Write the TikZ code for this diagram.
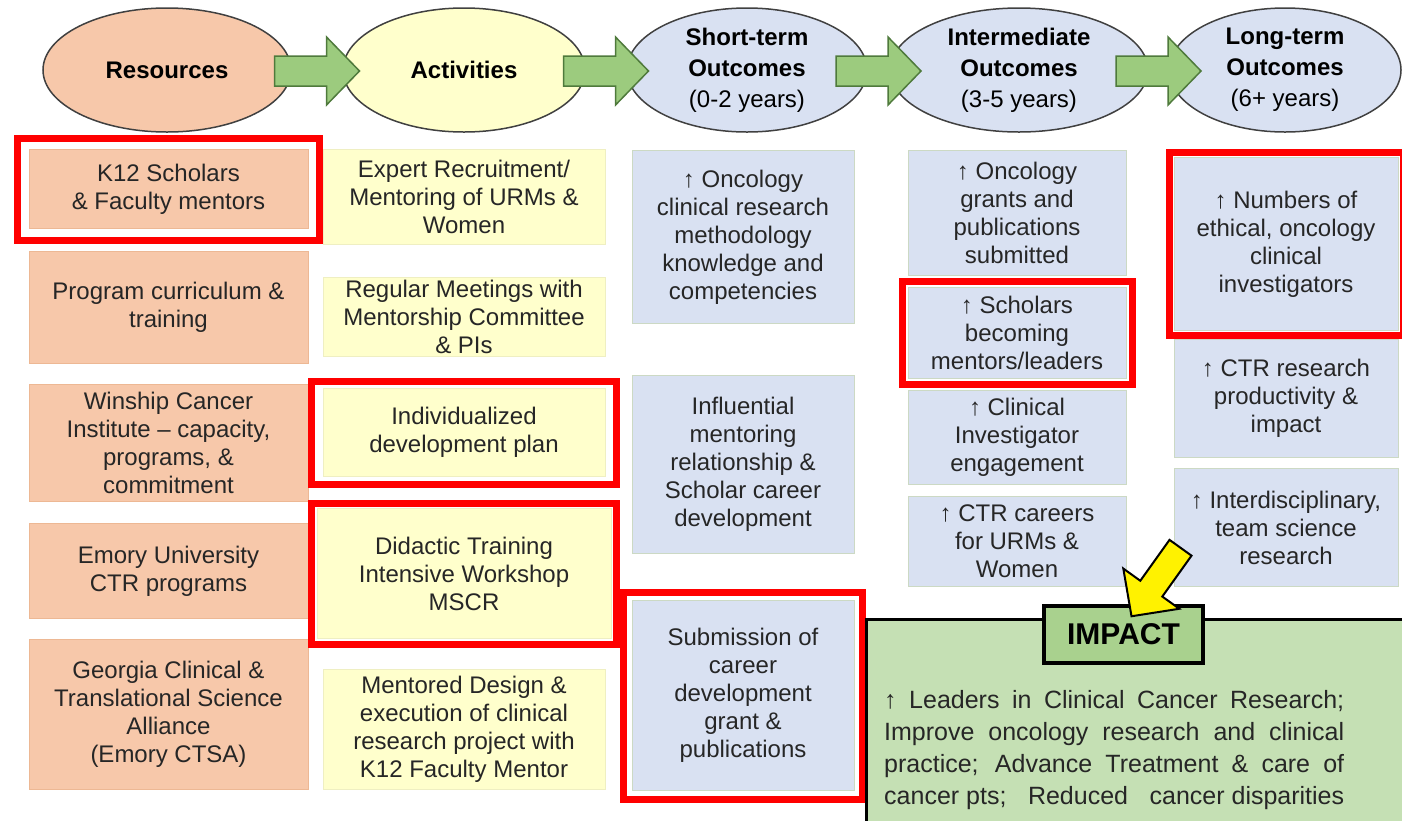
\documentclass[tikz,border=0pt]{standalone}
\usepackage{fontspec}
\setmainfont{Liberation Sans}
\usetikzlibrary{shapes.geometric, positioning, fit, calc}

\definecolor{resfill}{HTML}{F7C8AA}
\definecolor{resline}{HTML}{EDB894}
\definecolor{actfill}{HTML}{FFFFCC}
\definecolor{actline}{HTML}{EFEFC2}
\definecolor{outfill}{HTML}{D9E1F2}
\definecolor{outedge}{HTML}{CCD9C4}
\definecolor{arrfill}{HTML}{9CCB7E}
\definecolor{arredge}{HTML}{4F7A3C}
\definecolor{impfill}{HTML}{C5E0B4}
\definecolor{labfill}{HTML}{A9D18E}
\definecolor{hiliter}{HTML}{FF0000}

\begin{document}
\begin{tikzpicture}[
    x=1pt, y=-1pt,
    font=\fontsize{24}{28}\selectfont,
    hdr/.style={ellipse, draw=black!75, line width=1.5, minimum height=124,
                inner sep=0, align=center, font=\fontsize{24}{31}\selectfont},
    box/.style={rectangle, line width=1, inner sep=0, align=center, text=black!85},
    resbox/.style={box, draw=resline, fill=resfill, minimum width=279},
    actbox/.style={box, draw=actline, fill=actfill, minimum width=282},
    outbox/.style={box, draw=outedge, fill=outfill},
    hilite/.style={draw=hiliter, line width=7},
    garrow/.style={draw=arredge, fill=arrfill, line width=1.5, line join=miter},
    yarrow/.style={draw=black, fill=yellow, line width=2, line join=miter},
]
    \useasboundingbox (0,0) rectangle (1402,820);

    %==================== HEADER ELLIPSES ====================
    \node[hdr, fill=resfill, minimum width=248] (res) at (167,70) {\textbf{Resources}};
    \node[hdr, fill=actfill, minimum width=242] (act) at (464,70) {\textbf{Activities}};
    \node[hdr, fill=outfill, minimum width=240] (sto) at (747,70)
        {\textbf{Short-term}\\\textbf{Outcomes}\\(0-2 years)};
    \node[hdr, fill=outfill, minimum width=258] (ito) at (1019,70)
        {\textbf{Intermediate}\\\textbf{Outcomes}\\(3-5 years)};
    \node[hdr, fill=outfill, minimum width=232] (lto) at (1285,70)
        {\textbf{Long-term}\\\textbf{Outcomes}\\(6+ years)};

    % block arrows between the ellipses
    \foreach \a/\b in {res/act, act/sto, sto/ito, ito/lto} {
        \coordinate (mid-\a) at ($(\a.east)!0.5!(\b.west)+(0,1)$);
        \draw[garrow, shift={(mid-\a)}] (-42.5,-15) -- (9.5,-15) -- (9.5,-34)
            -- (42.5,0) -- (9.5,34) -- (9.5,15) -- (-42.5,15) -- cycle;
    }

    %==================== RESOURCES ====================
    \node[resbox, minimum height=79, anchor=north] (r1) at (168.5,149)
        {K12 Scholars\\\& Faculty mentors};
    \node[resbox, minimum height=112, below=22pt of r1] (r2)
        {Program curriculum \&\\training};
    \node[resbox, minimum height=117, below=20pt of r2] (r3)
        {Winship Cancer\\Institute -- capacity,\\programs, \&\\commitment};
    \node[resbox, minimum height=95, below=21pt of r3] (r4)
        {Emory University\\CTR programs};
    \node[resbox, minimum height=150, below=20pt of r4] (r5)
        {Georgia Clinical \&\\Translational Science\\Alliance\\(Emory CTSA)};

    %==================== ACTIVITIES ====================
    \node[actbox, minimum height=95, anchor=north] (a1) at (464,149)
        {Expert Recruitment/\\Mentoring of URMs \&\\Women};
    \node[actbox, minimum height=79, below=32pt of a1] (a2)
        {Regular Meetings with\\Mentorship Committee\\\& PIs};
    \node[actbox, minimum height=88, below=31pt of a2] (a3)
        {Individualized\\development plan};
    \node[actbox, minimum height=130, minimum width=294, below=31pt of a3] (a4)
        {Didactic Training\\Intensive Workshop\\MSCR};
    \node[actbox, minimum height=120, below=30pt of a4] (a5)
        {Mentored Design \&\\execution of clinical\\research project with\\K12 Faculty Mentor};

    %==================== SHORT-TERM ====================
    \node[outbox, minimum width=222, minimum height=173, anchor=north] (s1) at (743,150)
        {↑ Oncology\\clinical research\\methodology\\knowledge and\\competencies};
    \node[outbox, minimum width=222, minimum height=178, below=51pt of s1] (s2)
        {Influential\\mentoring\\relationship \&\\Scholar career\\development};
    \node[outbox, minimum width=222, minimum height=190, below=46pt of s2] (s3)
        {Submission of\\career\\development\\grant \&\\publications};

    %==================== INTERMEDIATE ====================
    \node[outbox, minimum width=218, minimum height=125, anchor=north] (i1) at (1017,150)
        {↑ Oncology\\grants and\\publications\\submitted};
    \node[outbox, minimum width=218, minimum height=91, below=11pt of i1] (i2)
        {↑ Scholars\\becoming\\mentors/leaders};
    \node[outbox, minimum width=218, minimum height=94, below=11pt of i2] (i3)
        {↑ Clinical\\Investigator\\engagement};
    \node[outbox, minimum width=218, minimum height=90, below=11pt of i3] (i4)
        {↑ CTR careers\\for URMs \&\\Women};

    %==================== LONG-TERM ====================
    \node[outbox, minimum width=224, minimum height=173, anchor=north] (l1) at (1286,157)
        {↑ Numbers of\\ethical, oncology\\clinical\\investigators};
    \node[outbox, minimum width=224, minimum height=118, below=8pt of l1] (l2)
        {↑ CTR research\\productivity \&\\impact};
    \node[outbox, minimum width=224, minimum height=118, below=10pt of l2] (l3)
        {↑ Interdisciplinary,\\team science\\research};

    %==================== RED HIGHLIGHTS ====================
    \node[hilite, fit=(r1), inner sep=11] (hl-r1) {};
    \node[hilite, fit=(a3), inner xsep=11, inner ysep=7] (hl-a3) {};
    \node[hilite, fit=(a4), inner sep=5] (hl-a4) {};
    \node[hilite, fit=(s3), inner sep=8] (hl-s3) {};
    \node[hilite, fit=(i2), inner sep=5.5] (hl-i2) {};
    \node[hilite, fit=(l1), inner sep=4.5] (hl-l1) {};

    %==================== IMPACT ====================
    \node[draw=black, line width=3, fill=impfill, minimum width=538, minimum height=205,
          inner sep=0] (impbox) at (1135,721.5) {};
    \node[draw=black, line width=3.5, fill=labfill, minimum width=159, minimum height=57,
          inner sep=0, font=\fontsize{30}{32}\selectfont\bfseries] (implabel)
        at (1123.5,634.5) {IMPACT};
    \node[anchor=west, text width=460, align=justify, inner sep=0, text=black!85,
          font=\fontsize{25}{32}\selectfont] (imptext) at (884,750.5)
        { ↑ Leaders in Clinical Cancer Research;\linebreak
         Improve oncology research and clinical\linebreak
         practice; Advance Treatment \& care of\linebreak
         cancer pts;\hfill Reduced\hfill cancer disparities};

    % yellow arrow pointing at the IMPACT label
    \coordinate (ytip) at ($(implabel.north)+(8,12)$);
    \draw[yarrow, shift={(ytip)}] (0,0) -- (-8.2,-47.7) -- (8.8,-35.5) -- (38,-76.4)
        -- (60,-60.6) -- (30.8,-19.7) -- (47.8,-7.5) -- cycle;

\end{tikzpicture}
\end{document}
